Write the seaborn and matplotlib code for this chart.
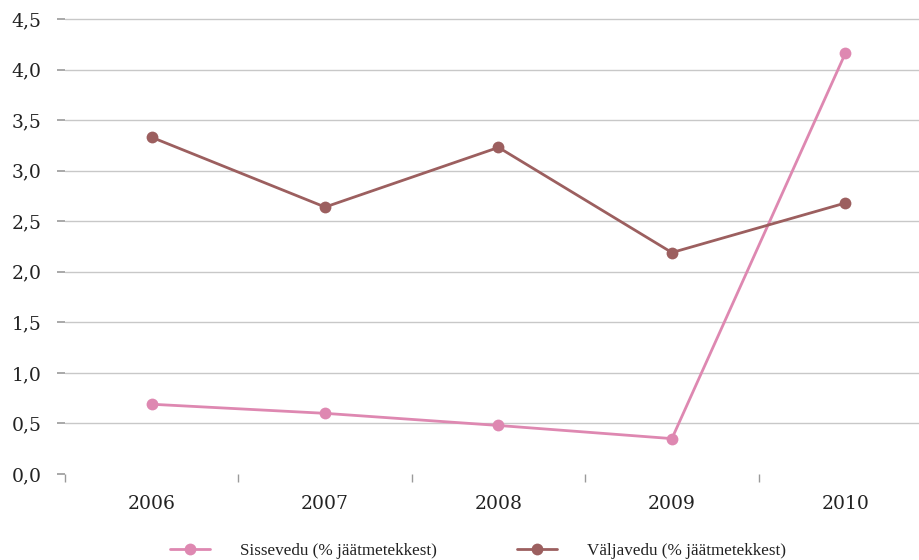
import matplotlib
matplotlib.use("Agg")
import matplotlib.pyplot as plt
import seaborn as sns
import pandas as pd
import numpy as np

years = ["2006", "2007", "2008", "2009", "2010"]
sissevedu = [0.69, 0.60, 0.48, 0.35, 4.16]
valjavedu = [3.33, 2.64, 3.23, 2.19, 2.68]
series_names = ["Sissevedu (% jäätmetekkest)", "Väljavedu (% jäätmetekkest)"]
colors = ["#de88b1", "#9c5f5f"]

sns.set_theme(style="white")
plt.rcParams["font.family"] = ["DejaVu Serif", "Liberation Serif"]

df = pd.DataFrame({
    "pos": list(range(len(years))) * 2,
    "value": sissevedu + valjavedu,
    "series": [series_names[0]] * len(years) + [series_names[1]] * len(years),
})

fig = plt.figure(figsize=(9.2, 5.6), dpi=100)
W, H = 920, 560
left_px, right_px = 65, 920
bottom_px, top_px = 474, 9
ax = fig.add_axes([left_px / W, (H - bottom_px) / H,
                   (right_px - left_px) / W, (bottom_px - top_px) / H])

sns.lineplot(data=df, x="pos", y="value", hue="series", palette=colors,
             marker="o", markersize=8.5, markeredgewidth=0, linewidth=2,
             ax=ax, legend=False, zorder=3)

yt = np.arange(0, 4.51, 0.5)
ax.set_yticks(yt)
ax.set_yticklabels([f"{v:.1f}".replace(".", ",") for v in yt])
ax.yaxis.grid(True, color="#c8c8c8", linewidth=1)
for gl, v in zip(ax.get_ygridlines(), yt):
    if v == 0:
        gl.set_visible(False)

ax.set_xticks(range(len(years)))
ax.set_xticklabels(years)
ax.set_xticks(np.arange(-0.5, len(years) - 1, 1.0), minor=True)

# category slots (~173 px each) run past the right edge of the figure
ax.set_xlim(-0.5, -0.5 + (right_px - left_px) / 173.4)
ax.set_ylim(0, 4.5 * (bottom_px - top_px) / (474 - 19))

ax.tick_params(axis="x", which="major", length=0, pad=15, labelsize=13.5, colors="#222222")
ax.tick_params(axis="x", which="minor", length=6, width=1, color="#9a9a9a", bottom=True)
ax.tick_params(axis="y", which="major", length=6, width=1.2, color="#9a9a9a",
               left=True, pad=11, labelsize=13.5, labelcolor="#222222")

for s in ax.spines.values():
    s.set_visible(False)
ax.set_xlabel("")
ax.set_ylabel("")

# legend entries placed one by one along the bottom
for c, name, x0 in zip(colors, series_names, [170, 517]):
    h = plt.Line2D([], [], color=c, marker="o", markersize=8.5,
                   markeredgewidth=0, linewidth=2)
    fig.legend([h], [name], loc="center left", bbox_to_anchor=(x0 / W, 1 - 551 / H),
               frameon=False, borderpad=0, borderaxespad=0, handlelength=2.35,
               handletextpad=1.75, labelcolor="#222222",
               prop={"family": "Liberation Serif", "size": 12.3})

fig.savefig("out.png", dpi=100)
